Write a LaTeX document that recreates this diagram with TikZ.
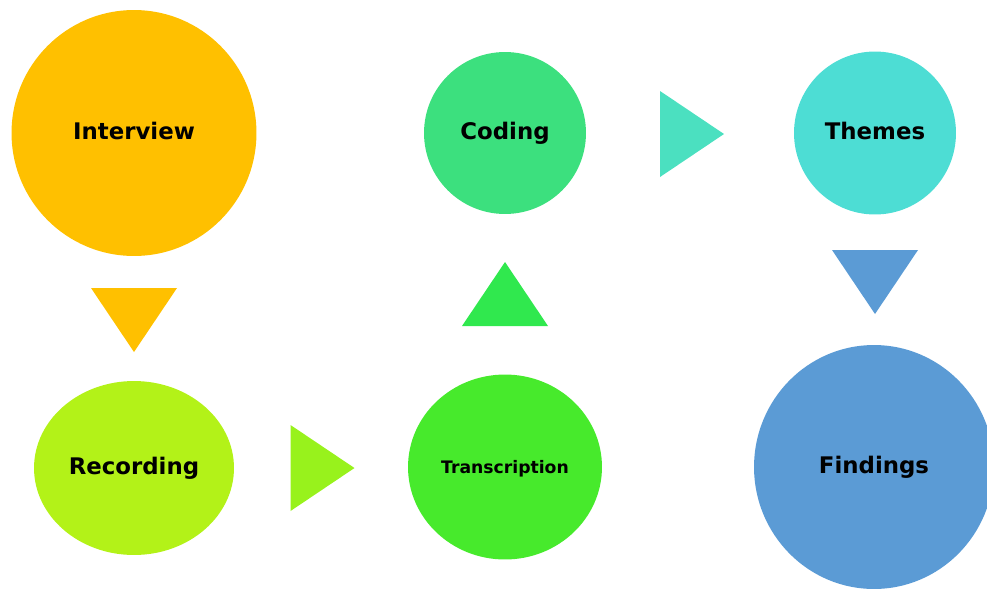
\documentclass[tikz,border=0pt]{standalone}
\usepackage{fontspec}
\setmainfont{DejaVu Sans}
\usetikzlibrary{shapes.geometric}

\definecolor{cInterview}{HTML}{FFC000}
\definecolor{cRecording}{HTML}{B3F218}
\definecolor{cArrowA}{HTML}{98F21C}
\definecolor{cTranscription}{HTML}{47EA2C}
\definecolor{cArrowB}{HTML}{30E84E}
\definecolor{cCoding}{HTML}{3CE07E}
\definecolor{cArrowC}{HTML}{4BE0C0}
\definecolor{cThemes}{HTML}{4DDDD4}
\definecolor{cFindings}{HTML}{5B9BD5}

\begin{document}
\begin{tikzpicture}[x=0.02cm, y=-0.02cm,
  stage/.style={ellipse, inner sep=0pt, text height=1.6ex, text depth=0.3ex,
    font=\bfseries\fontsize{13}{16}\selectfont},
  pics/tri/.style={code={\fill (-32,-43) -- (32,0) -- (-32,43) -- cycle;}}]
\useasboundingbox (0,0) rectangle (987,589);

% stages
\node[stage, fill=cInterview, minimum width=4.9cm, minimum height=4.92cm] (interview) at (134,133) {Interview};
\node[stage, fill=cRecording, minimum width=4cm, minimum height=3.48cm] (recording) at (134,468) {Recording};
\node[stage, fill=cTranscription, minimum width=3.88cm, minimum height=3.7cm,
      font=\bfseries\fontsize{9.8}{12}\selectfont] (transcription) at (505,467) {Transcription};
\node[stage, fill=cCoding, minimum width=3.24cm, minimum height=3.24cm] (coding) at (505,133) {Coding};
\node[stage, fill=cThemes, minimum width=3.24cm, minimum height=3.26cm] (themes) at (875,133) {Themes};
\node[stage, fill=cFindings, minimum width=4.8cm, minimum height=4.88cm] (findings) at (874,467) {Findings};

% arrows between the stages
\pic[fill=cInterview, rotate=-90] at (134,320) {tri};
\pic[fill=cArrowA] at (322.5,468) {tri};
\pic[fill=cArrowB, rotate=90] at (505,294) {tri};
\pic[fill=cArrowC] at (692,134) {tri};
\pic[fill=cFindings, rotate=-90] at (875,282) {tri};
\end{tikzpicture}
\end{document}
